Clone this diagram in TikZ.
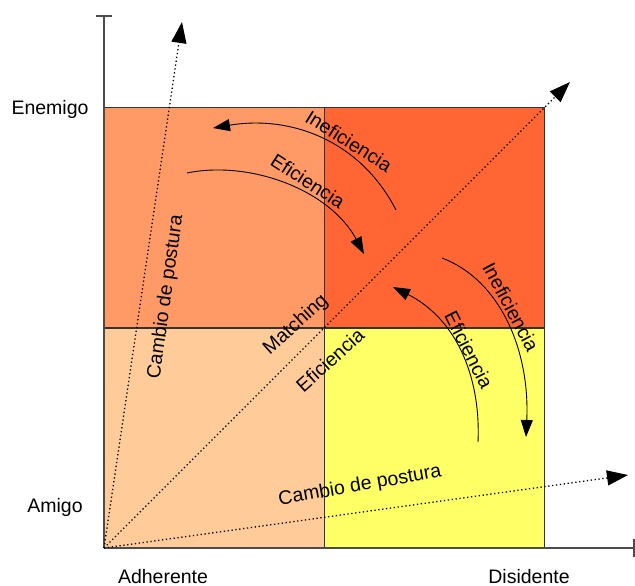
\documentclass[tikz,border=0pt]{standalone}
\usepackage{fontspec}
\setmainfont{Liberation Sans}
\usetikzlibrary{arrows.meta}
\definecolor{qTL}{HTML}{FF9966}
\definecolor{qTR}{HTML}{FF6633}
\definecolor{qBL}{HTML}{FFCC99}
\definecolor{qBR}{HTML}{FFFF66}
\begin{document}
\begin{tikzpicture}[x=1pt,y=-1pt,
  quad/.style={draw=black!80, line width=0.9pt, minimum width=220pt, minimum height=220.5pt, inner sep=0pt, outer sep=0pt, anchor=north west},
  lbl/.style={font=\fontsize{19.5}{22}\selectfont, inner sep=0pt},
  dotarrow/.style={line width=1.3pt, dash pattern=on 1.3pt off 2.6pt, -{Triangle[length=21pt,width=15pt]}},
  curvearrow/.style={line width=0.9pt, -{Triangle[length=17pt,width=12pt]}},
  curveline/.style={line width=0.9pt},
  axisline/.style={draw=black!70, line width=1.6pt}]
\useasboundingbox (0,0) rectangle (635,586);
% quadrants
\node[quad, fill=qTL] (tl) at (104,107) {};
\node[quad, fill=qTR] (tr) at (324,107) {};
\node[quad, fill=qBL] (bl) at (104,328) {};
\node[quad, fill=qBR] (br) at (324,328) {};
% axes
\coordinate (O) at (104,548);
\coordinate (ytop) at (104,16);
\coordinate (yt1) at (96,16);
\coordinate (yt2) at (112,16);
\coordinate (xend) at (634,548);
\coordinate (xt1) at (634,539);
\coordinate (xt2) at (634,557);
\draw[axisline] (O) -- (ytop);
\draw[axisline] (yt1) -- (yt2);
\draw[axisline] (O) -- (xend);
\draw[axisline] (xt1) -- (xt2);
% dotted arrows
\coordinate (tipV) at (182,22);
\coordinate (tipD) at (570,82);
\coordinate (tipH) at (628,475);
\draw[dotarrow] (O) -- (tipV);
\draw[dotarrow] (O) -- (tipD);
\draw[dotarrow] (O) -- (tipH);
% curved arrows
\coordinate (i1s) at (396,210);
\coordinate (i1e) at (213,128);
\draw[curvearrow] (i1s) .. controls (360,140) and (290,115) .. (i1e);
\coordinate (e1s) at (187,173);
\coordinate (e1e) at (364,254);
\draw[curvearrow] (e1s) .. controls (250,160) and (330,190) .. (e1e);
\coordinate (e2s) at (478,442);
\coordinate (e2e) at (393,287);
\draw[curvearrow] (e2s) .. controls (481,375) and (455,318) .. (e2e);
\coordinate (i2s) at (442,258);
\coordinate (i2e) at (526,437);
\draw[curvearrow] (i2s) .. controls (500,280) and (530,350) .. (i2e);
% labels
\node[lbl, anchor=base] (enemigo) at (50,114) {Enemigo};
\node[lbl, anchor=base] (amigo) at (55,512) {Amigo};
\node[lbl, anchor=base] (adher) at (163,583) {Adherente};
\node[lbl, anchor=base] (disid) at (529,583) {Disidente};
\node[lbl, rotate=-32] (ineftop) at (349,141) {Ineficiencia};
\node[lbl, rotate=-33] (eftop) at (308,181) {Eficiencia};
\node[lbl, rotate=42] (match) at (296,325) {Matching};
\node[lbl, rotate=42] (efmid) at (330,360) {Eficiencia};
\node[lbl, rotate=-62] (inefr) at (511,307) {Ineficiencia};
\node[lbl, rotate=-63] (efr) at (469,350) {Eficiencia};
\node[lbl, rotate=82] (cambl) at (166,297) {Cambio de postura};
\node[lbl, rotate=10] (cambb) at (360,486) {Cambio de postura};
\end{tikzpicture}
\end{document}
